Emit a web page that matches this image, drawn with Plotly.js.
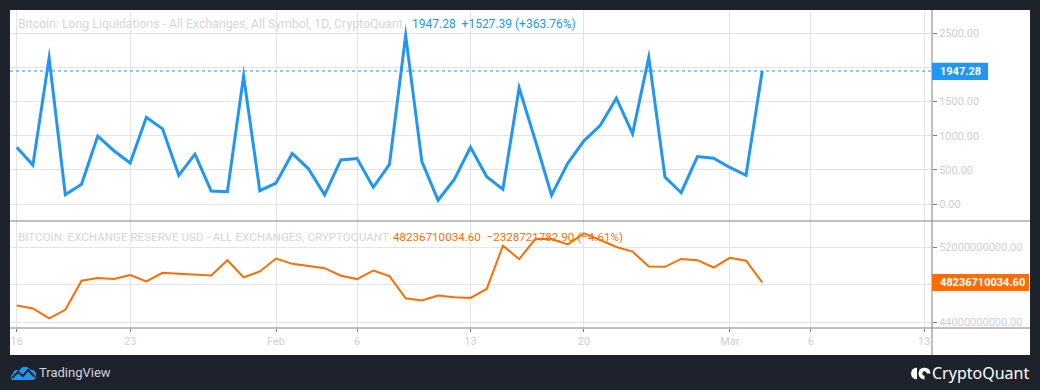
<!DOCTYPE html>
<html>
<head>
<meta charset="utf-8">
<script src="https://cdn.plot.ly/plotly-3.0.1.min.js"></script>
<style>
  html, body { margin: 0; padding: 0; background: #1e222d; }
  #chart { width: 1040px; height: 390px; }
  .js-line { stroke-linejoin: miter !important; stroke-miterlimit: 10 !important; }
</style>
</head>
<body>
<div id="chart"></div>
<script>
// ---- data ----
const dates = [
  "2023-01-16","2023-01-17","2023-01-18","2023-01-19","2023-01-20","2023-01-21","2023-01-22",
  "2023-01-23","2023-01-24","2023-01-25","2023-01-26","2023-01-27","2023-01-28","2023-01-29",
  "2023-01-30","2023-01-31","2023-02-01","2023-02-02","2023-02-03","2023-02-04","2023-02-05",
  "2023-02-06","2023-02-07","2023-02-08","2023-02-09","2023-02-10","2023-02-11","2023-02-12",
  "2023-02-13","2023-02-14","2023-02-15","2023-02-16","2023-02-17","2023-02-18","2023-02-19",
  "2023-02-20","2023-02-21","2023-02-22","2023-02-23","2023-02-24","2023-02-25","2023-02-26",
  "2023-02-27","2023-02-28","2023-03-01","2023-03-02","2023-03-03"
];
const longLiquidations = [
  830, 570, 2140, 135, 290, 995, 780,
  600, 1270, 1100, 420, 730, 190, 180,
  1875, 195, 305, 740, 515, 135, 645,
  665, 245, 580, 2470, 620, 55, 360,
  830, 400, 215, 1700, 930, 130, 595,
  925, 1150, 1550, 1030, 2150, 395, 165,
  695, 670, 535, 419.89, 1947.28
];
const exchangeReserveUsd = [
  45.77e9, 45.45e9, 44.39e9, 45.31e9, 48.42e9, 48.71e9, 48.60e9,
  49.03e9, 48.35e9, 49.27e9, 49.17e9, 49.10e9, 48.99e9, 50.62e9,
  48.78e9, 49.42e9, 50.80e9, 50.23e9, 50.02e9, 49.77e9, 48.96e9,
  48.60e9, 49.52e9, 48.92e9, 46.55e9, 46.30e9, 46.83e9, 46.65e9,
  46.58e9, 47.54e9, 52.18e9, 50.73e9, 52.89e9, 52.89e9, 52.32e9,
  53.49e9, 52.78e9, 52.04e9, 51.54e9, 49.95e9, 49.91e9, 50.76e9,
  50.62e9, 49.84e9, 50.87e9, 50565431817.50, 48236710034.60
];
const dateTickVals = ["2023-01-16","2023-01-23","2023-02-01","2023-02-06","2023-02-13","2023-02-20","2023-03-01","2023-03-06","2023-03-13"];
const dateTickText = ["16","23","Feb","6","13","20","Mar","6","13"];
const liqTickVals = [0, 500, 1000, 1500, 2000, 2500];
const liqTickText = ["0.00", "500.00", "1000.00", "1500.00", "", "2500.00"];
const reserveTickVals = [44e9, 48e9, 52e9];
const reserveTickText = ["44000000000.00", "", "52000000000.00"];
const liqTitle = "Bitcoin: Long Liquidations - All Exchanges, All Symbol, 1D, CryptoQuant";
const reserveTitle = "BITCOIN: EXCHANGE RESERVE USD - ALL EXCHANGES, CRYPTOQUANT";

// ---- helpers (pixel -> paper) ----
const PL = 10, PR = 932, PT = 10, PB = 328;
const px = X => (X - PL) / (PR - PL);
const py = Y => (PB - Y) / (PB - PT);

const BLUE = "#2196f3", ORANGE = "#ff6d00", GRID = "#e4e4e4", AXIS = "#808080", PALE = "#cfcfcf";
const FONT = "Roboto, 'DejaVu Sans', sans-serif";

function fmtChange(arr, dec) {
  const last = arr[arr.length - 1], prev = arr[arr.length - 2];
  const d = last - prev, pct = d / prev * 100;
  const sign = d >= 0 ? "+" : "\u2212";
  return last.toFixed(dec) + "  " + sign + Math.abs(d).toFixed(dec) + " (" + sign + Math.abs(pct).toFixed(2) + "%)";
}
const lastLiq = longLiquidations[longLiquidations.length - 1];
const lastRes = exchangeReserveUsd[exchangeReserveUsd.length - 1];

const traces = [
  { x: dates, y: longLiquidations, type: "scatter", mode: "lines", xaxis: "x", yaxis: "y",
    line: { color: BLUE, width: 3 } },
  { x: dates, y: exchangeReserveUsd, type: "scatter", mode: "lines", xaxis: "x", yaxis: "y2",
    line: { color: ORANGE, width: 2 } }
];

const tvLogo = "data:image/svg+xml;utf8," + encodeURIComponent(
  '<svg xmlns="http://www.w3.org/2000/svg" width="27" height="17" viewBox="0 0 27 17">' +
  '<path d="M3 16 C0 16 0 11 3 10 C3 6 7 5 9 7 C11 2 18 1 20 6 C24 5 27 9 26 12 C26 15 24 16 22 16 Z" fill="#2196f3"/>' +
  '<path d="M2 14 L8 8 L13 12 L18 6 L25 13" stroke="#1e222d" stroke-width="2" fill="none"/></svg>');
const cqLogo = "data:image/svg+xml;utf8," + encodeURIComponent(
  '<svg xmlns="http://www.w3.org/2000/svg" width="20" height="12" viewBox="0 0 20 12">' +
  '<path d="M6 0 A6 6 0 0 0 6 12 Z" fill="#ffffff"/>' +
  '<circle cx="13.5" cy="6" r="6" fill="#ffffff"/>' +
  '<path d="M13.5 6 L20 6 L20 12 L13.5 12 Z" fill="#1e222d"/>' +
  '<circle cx="13.5" cy="6" r="2.2" fill="#1e222d"/></svg>');

const layout = {
  width: 1040, height: 390,
  margin: { l: PL, r: 1040 - PR, t: PT, b: 390 - PB },
  paper_bgcolor: "#1e222d",
  plot_bgcolor: "rgba(0,0,0,0)",
  showlegend: false,
  hovermode: false,
  font: { family: FONT, color: PALE, size: 11 },
  xaxis: {
    type: "date", anchor: "y2",
    range: ["2023-01-15 14:05", "2023-03-13 11:24"],
    tickvals: dateTickVals, ticktext: dateTickText,
    ticks: "outside", ticklen: 3, tickcolor: AXIS,
    showgrid: true, gridcolor: GRID, gridwidth: 1,
    zeroline: false, showline: false,
    tickfont: { family: FONT, size: 11, color: PALE }
  },
  yaxis: {
    domain: [py(221), 1], anchor: "x", side: "right",
    range: [-249, 2841],
    tickvals: liqTickVals, ticktext: liqTickText,
    ticks: "outside", ticklen: 4, tickcolor: AXIS,
    showgrid: true, gridcolor: GRID, zeroline: false, showline: false,
    tickfont: { family: FONT, size: 11, color: PALE }
  },
  yaxis2: {
    domain: [0, py(221)], anchor: "x", side: "right",
    range: [43.36e9, 54.82e9],
    tickvals: reserveTickVals, ticktext: reserveTickText,
    ticks: "outside", ticklen: 4, tickcolor: AXIS,
    showgrid: true, gridcolor: GRID, zeroline: false, showline: false,
    tickfont: { family: FONT, size: 11, color: PALE }
  },
  shapes: [
    { type: "rect", xref: "paper", yref: "paper", layer: "below",
      x0: px(10), x1: px(1030), y0: py(355), y1: py(10),
      fillcolor: "#ffffff", line: { width: 0 } },
    { type: "line", xref: "paper", yref: "paper", x0: px(932), x1: px(932), y0: py(355), y1: py(10),
      line: { color: AXIS, width: 1 } },
    { type: "line", xref: "paper", yref: "paper", x0: px(10), x1: px(1030), y0: py(221), y1: py(221),
      line: { color: AXIS, width: 1 } },
    { type: "line", xref: "paper", yref: "paper", x0: px(10), x1: px(1030), y0: py(328), y1: py(328),
      line: { color: AXIS, width: 1 } },
    { type: "line", xref: "paper", yref: "y", x0: 0, x1: 1, y0: lastLiq, y1: lastLiq,
      line: { color: BLUE, width: 1, dash: "dot" } },
    { type: "rect", xref: "paper", yref: "paper", x0: px(932), x1: px(988), y0: py(80), y1: py(62.7),
      fillcolor: BLUE, line: { width: 0 } },
    { type: "rect", xref: "paper", yref: "paper", x0: px(932), x1: px(1029), y0: py(291), y1: py(274),
      fillcolor: ORANGE, line: { width: 0 } }
  ],
  annotations: [
    { text: liqTitle, xref: "paper", yref: "paper", x: px(16), y: py(24.3), xanchor: "left", yanchor: "middle",
      showarrow: false, font: { family: FONT, size: 12.3, color: "#d6d6d6" } },
    { text: fmtChange(longLiquidations, 2), xref: "paper", yref: "paper", x: px(409.5), y: py(24.3), xanchor: "left", yanchor: "middle",
      showarrow: false, font: { family: FONT, size: 12, color: BLUE } },
    { text: reserveTitle, xref: "paper", yref: "paper", x: px(16), y: py(236.7), xanchor: "left", yanchor: "middle",
      showarrow: false, font: { family: FONT, size: 11.6, color: "#d6d6d6" } },
    { text: fmtChange(exchangeReserveUsd, 2), xref: "paper", yref: "paper", x: px(390.5), y: py(236.7), xanchor: "left", yanchor: "middle",
      showarrow: false, font: { family: FONT, size: 11.6, color: ORANGE } },
    { text: "<b>" + lastLiq.toFixed(2) + "</b>", xref: "paper", yref: "paper", x: px(938), y: py(71.3), xanchor: "left", yanchor: "middle",
      showarrow: false, font: { family: FONT, size: 11, color: "#ffffff" } },
    { text: "<b>" + lastRes.toFixed(2) + "</b>", xref: "paper", yref: "paper", x: px(938), y: py(282.5), xanchor: "left", yanchor: "middle",
      showarrow: false, font: { family: FONT, size: 11, color: "#ffffff" } },
    { text: "TradingView", xref: "paper", yref: "paper", x: px(37), y: py(372.5), xanchor: "left", yanchor: "middle",
      showarrow: false, font: { family: FONT, size: 13, color: "#d1d4dc" } },
    { text: "CryptoQuant", xref: "paper", yref: "paper", x: px(1031), y: py(372.5), xanchor: "right", yanchor: "middle",
      showarrow: false, font: { family: "'Noto Sans', Roboto, sans-serif", size: 16, color: "#ffffff" } }
  ],
  images: [
    { source: tvLogo, xref: "paper", yref: "paper", x: px(10), y: py(364), sizex: 27 / 922, sizey: 17 / 318,
      xanchor: "left", yanchor: "top", sizing: "stretch", layer: "above" },
    { source: cqLogo, xref: "paper", yref: "paper", x: px(911), y: py(367.5), sizex: 20 / 922, sizey: 12 / 318,
      xanchor: "left", yanchor: "top", sizing: "stretch", layer: "above" }
  ]
};

Plotly.newPlot("chart", traces, layout, { staticPlot: true, displayModeBar: false });
</script>
</body>
</html>
